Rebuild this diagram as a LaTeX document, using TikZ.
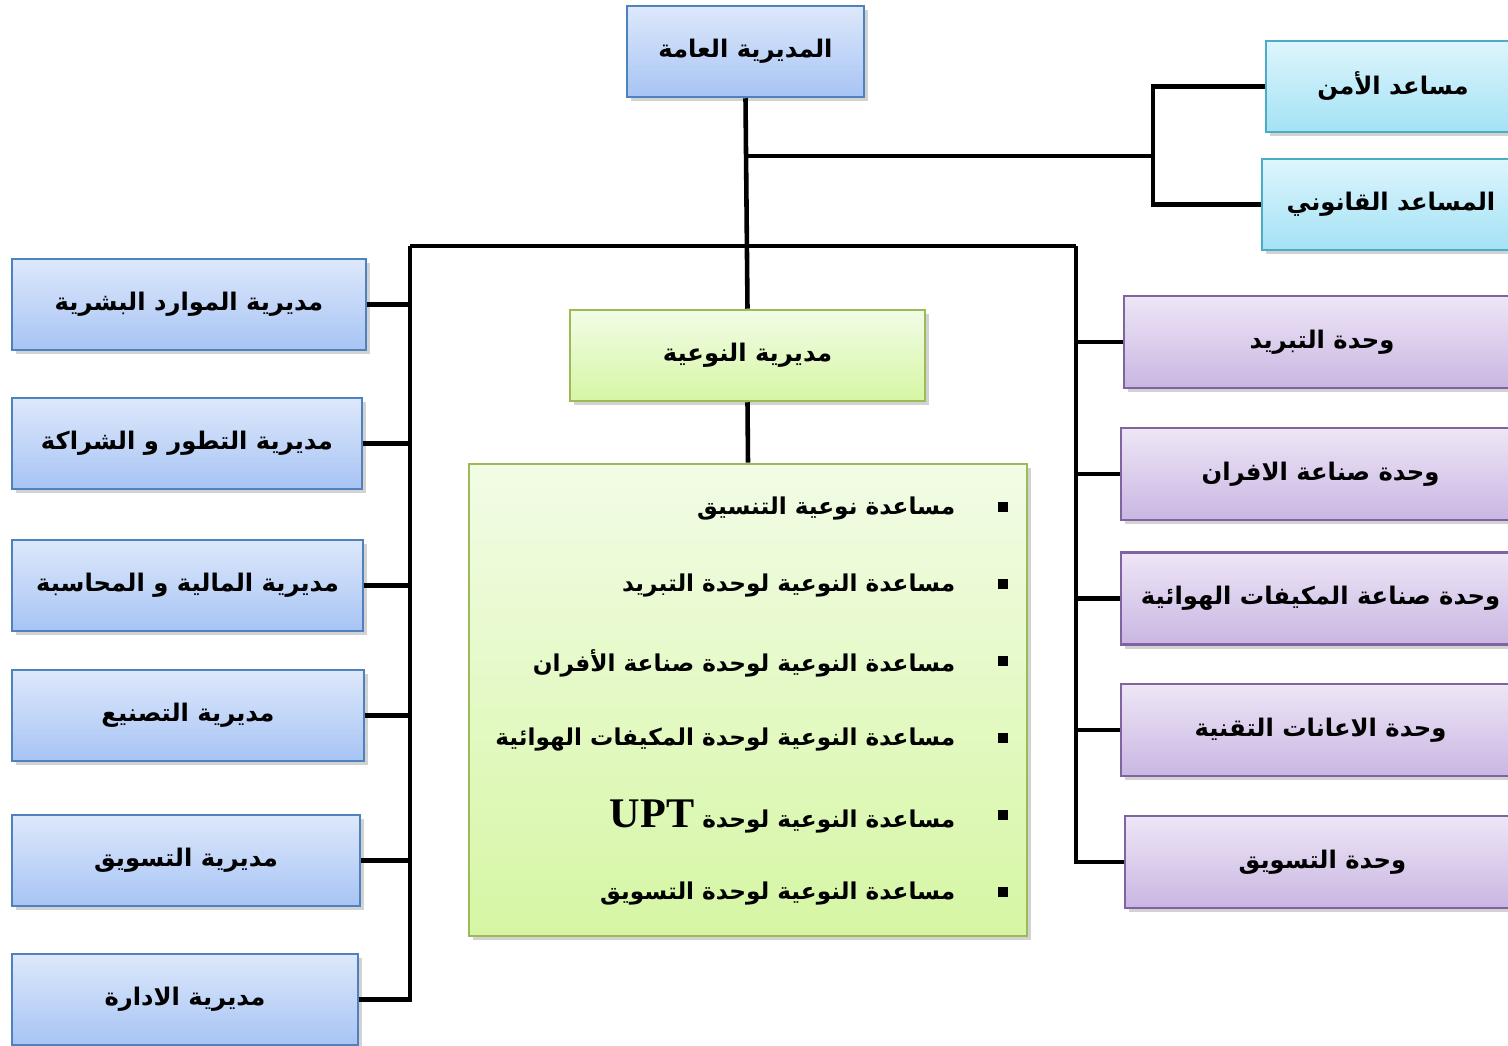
\documentclass[tikz,border=0pt]{standalone}
\usepackage{fontspec}
\newfontfamily\arabicfont[Script=Arabic]{DejaVu Sans}
\newfontfamily\latinbold{Liberation Serif}
\TeXXeTstate=1
\usetikzlibrary{shadows}
\definecolor{blueTop}{HTML}{DDE8FB}
\definecolor{blueBot}{HTML}{A7C4F4}
\definecolor{blueLine}{HTML}{4F81BD}
\definecolor{cyanTop}{HTML}{DEF5FC}
\definecolor{cyanBot}{HTML}{A3E2F5}
\definecolor{cyanLine}{HTML}{4BACC6}
\definecolor{greenTop}{HTML}{F2FCE6}
\definecolor{greenBot}{HTML}{D6F6A4}
\definecolor{greenLine}{HTML}{9BBB59}
\definecolor{purpleTop}{HTML}{EEE6F6}
\definecolor{purpleBot}{HTML}{C9B6E2}
\definecolor{purpleLine}{HTML}{8064A2}
\newcommand{\artext}[1]{\beginR #1\endR}
\tikzset{
  box/.style={draw, line width=0.7pt, inner sep=0pt, minimum height=0.91cm,
    font=\arabicfont\bfseries\fontsize{6.9}{8}\selectfont,
    drop shadow={shadow xshift=1.2pt, shadow yshift=-1.2pt, opacity=0.35}},
  dirbox/.style={box, draw=blueLine, top color=blueTop, bottom color=blueBot},
  aidbox/.style={box, draw=cyanLine, top color=cyanTop, bottom color=cyanBot},
  qualbox/.style={box, draw=greenLine, top color=greenTop, bottom color=greenBot},
  unitbox/.style={box, draw=purpleLine, top color=purpleTop, bottom color=purpleBot, minimum height=0.92cm},
  link/.style={line width=1.3pt},
  item/.style={anchor=east, inner sep=0pt, font=\arabicfont\bfseries\fontsize{6.6}{8}\selectfont},
  bullet/.style={fill=black, minimum size=0.1cm, inner sep=0pt}
}
\begin{document}
\begin{tikzpicture}[x=0.01cm, y=-0.01cm]
  \useasboundingbox[fill=white] (0,0) rectangle (1508,1046);

  \node[dirbox, minimum width=2.37cm] (gen) at (745.5,51.5) {\artext{المديرية العامة}};
  \node[aidbox, minimum width=2.54cm] (sec) at (1393,86.5) {\artext{مساعد الأمن}};
  \node[aidbox, minimum width=2.58cm] (legal) at (1391,204.5) {\artext{المساعد القانوني}};

  \node[dirbox, minimum width=3.54cm] (hr) at (189,304.5) {\artext{مديرية الموارد البشرية}};
  \node[dirbox, minimum width=3.50cm] (dev) at (187,443.5) {\artext{مديرية التطور و الشراكة}};
  \node[dirbox, minimum width=3.51cm] (fin) at (187.5,585.5) {\artext{مديرية المالية و المحاسبة}};
  \node[dirbox, minimum width=3.52cm] (manu) at (188,715.5) {\artext{مديرية التصنيع}};
  \node[dirbox, minimum width=3.48cm] (mkt) at (186,860.5) {\artext{مديرية التسويق}};
  \node[dirbox, minimum width=3.46cm] (adm) at (185,999.5) {\artext{مديرية الادارة}};

  \node[qualbox, minimum width=3.55cm] (qual) at (747.5,355.5) {\artext{مديرية النوعية}};
  \node[qualbox, minimum width=5.58cm, minimum height=4.72cm] (lst) at (748,700) {};

  \node[unitbox, minimum width=3.96cm] (cool) at (1322,342) {\artext{وحدة التبريد}};
  \node[unitbox, minimum width=3.99cm] (oven) at (1320.5,474) {\artext{وحدة صناعة الافران}};
  \node[unitbox, minimum width=3.99cm] (ac) at (1320.5,598.5) {\artext{وحدة صناعة المكيفات الهوائية}};
  \node[unitbox, minimum width=3.99cm] (tech) at (1320.5,730) {\artext{وحدة الاعانات التقنية}};
  \node[unitbox, minimum width=3.95cm] (umkt) at (1322.5,862) {\artext{وحدة التسويق}};

  \foreach \i/\t in {1/{مساعدة نوعية التنسيق},
                     2/{مساعدة النوعية لوحدة التبريد},
                     3/{مساعدة النوعية لوحدة صناعة الأفران},
                     4/{مساعدة النوعية لوحدة المكيفات الهوائية},
                     5/{مساعدة النوعية لوحدة \beginL{\latinbold\bfseries\fontsize{12}{14}\selectfont UPT}\endL},
                     6/{مساعدة النوعية لوحدة التسويق}} {
    \node[item] (it\i) at (956,432+77*\i) {\artext{\t}};
    \node[bullet] (bu\i) at (1003,430+77*\i) {};
  }

  \coordinate (jr) at (1153,156);
  \coordinate (bl) at (410,246);
  \coordinate (br) at (1076,246);

  \draw[link] (gen.south) -- (qual.north);
  \draw[link] (gen.south |- jr) -- (jr);
  \draw[link] (sec.west) -| (jr) |- (legal.west);
  \draw[link] (bl) -- (br);
  \draw[link] (bl) |- (adm.east);
  \foreach \n in {hr,dev,fin,manu,mkt}
    \draw[link] (\n.east) -- (\n.east -| bl);
  \draw[link] (br) |- (umkt.west);
  \foreach \n in {cool,oven,ac,tech}
    \draw[link] (\n.west) -- (\n.west -| br);
  \draw[link] (qual.south) -- (lst.north);
\end{tikzpicture}
\end{document}
